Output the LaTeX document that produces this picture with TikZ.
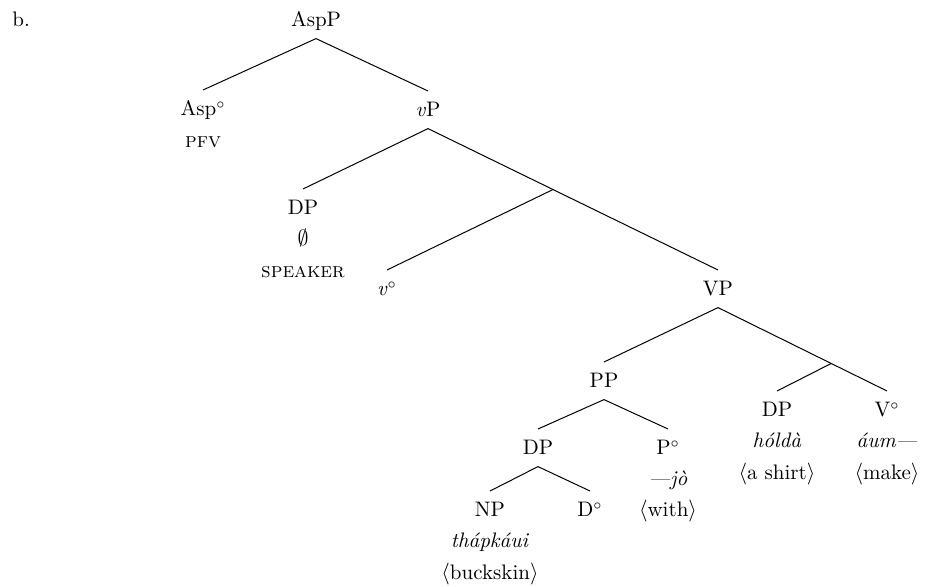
\documentclass[tikz,border=0pt]{standalone}
\usepackage{fontspec}
\usetikzlibrary{calc}
\begin{document}
\begin{tikzpicture}[x=0.5pt,y=-0.5pt,
  cat/.style={font=\fontsize{10.5}{15.75}\selectfont, text height=7.2pt,
    text depth=0pt, inner xsep=1pt, inner ysep=5.6pt, anchor=base},
  gloss/.style={font=\fontsize{10.5}{15.75}\selectfont, inner sep=0pt, anchor=base},
  branch/.style={line width=0.5pt}]
\useasboundingbox (0,0) rectangle (927,587);

% example label
\node[gloss, anchor=base west] (exlabel) at (12,27) {b.};

% category nodes
\node[cat] (AspP) at (316,27) {AspP};
\node[cat] (Asp)  at (203,116) {Asp$^{\circ}$};
\node[cat] (vP)   at (428,117) {\textit{v}P};
\node[cat] (spec) at (303,215) {DP};
\node[cat] (v)    at (387,296) {\textit{v}$^{\circ}$};
\node[cat] (VP)   at (718,296) {VP};
\node[cat] (PP)   at (604,388) {PP};
\node[cat] (obj)  at (777,417) {DP};
\node[cat] (V)    at (887,417) {V$^{\circ}$};
\node[cat] (DP)   at (538,455) {DP};
\node[cat] (P)    at (668,455) {P$^{\circ}$};
\node[cat] (NP)   at (490,517) {NP};
\node[cat] (D)    at (590,517) {D$^{\circ}$};

% terminals and glosses
\node[gloss] (pfv)     at (203,148) {\textsc{pfv}};
\node[gloss] (null)    at (303,246) {$\emptyset$};
\node[gloss] (speaker) at (303,278) {\textsc{speaker}};
\node[gloss] (holda)   at (777,448) {\textit{hóldà}};
\node[gloss] (shirt)   at (777,480) {$\langle$a shirt$\rangle$};
\node[gloss] (aum)     at (887,448) {\textit{áum---}};
\node[gloss] (make)    at (887,480) {$\langle$make$\rangle$};
\node[gloss] (jo)      at (668,486) {\textit{---jò}};
\node[gloss] (with)    at (668,517) {$\langle$with$\rangle$};
\node[gloss] (thap)    at (490,548) {\textit{thápkáui}};
\node[gloss] (buck)    at (490,580) {$\langle$buckskin$\rangle$};

% unlabeled intermediate projections
\coordinate (vbar) at ($(vP.south)!0.431!(VP.north)$);
\coordinate (Vbar) at ($(VP.south)!0.67!(V.north)$);

% branches
\draw[branch] (AspP.south) -- (Asp.north);
\draw[branch] (AspP.south) -- (vP.north);
\draw[branch] (vP.south) -- (spec.north);
\draw[branch] (vP.south) -- (vbar) -- (VP.north);
\draw[branch] (vbar) -- (v.north);
\draw[branch] (VP.south) -- (PP.north);
\draw[branch] (VP.south) -- (Vbar) -- (V.north);
\draw[branch] (Vbar) -- (obj.north);
\draw[branch] (PP.south) -- (DP.north);
\draw[branch] (PP.south) -- (P.north);
\draw[branch] (DP.south) -- (NP.north);
\draw[branch] (DP.south) -- (D.north);
\end{tikzpicture}
\end{document}
